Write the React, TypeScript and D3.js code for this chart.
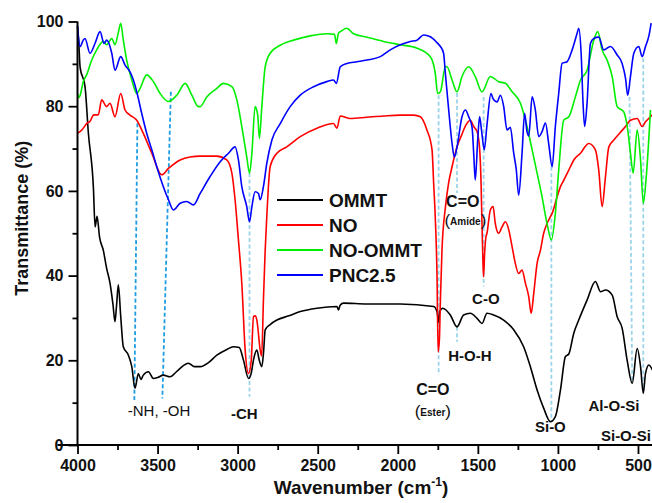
import React, { useEffect, useRef } from 'react';
import * as d3 from 'd3';

type Pt = [number, number];

// spectra: [wavenumber, transmittance %]
const OMMT: Pt[] = [
  [4000, 99], [3992, 95], [3984, 89.3], [3953, 84.6], [3932, 73.6], [3901, 61], [3890, 51.5],
  [3878, 54], [3862, 49], [3839, 46], [3818, 41.7], [3797, 38.2], [3778, 33], [3766, 29.1],
  [3756, 33], [3745, 37.8], [3730, 30.3], [3714, 23.2], [3682, 21.2], [3661, 18.5], [3641, 13.4],
  [3620, 16.9], [3604, 15.5], [3589, 16.5], [3557, 17.3], [3526, 15.7], [3495, 16], [3464, 16.5],
  [3422, 16.1], [3390, 17], [3359, 18.1], [3307, 19.3], [3270, 18.5], [3234, 18.5], [3180, 19.5],
  [3130, 21.2], [3070, 22.5], [3026, 23.2], [2990, 23], [2964, 20.1], [2932, 15.7], [2915, 17],
  [2901, 20.1], [2880, 22.4], [2865, 20], [2849, 18.5], [2838, 22], [2828, 27.2], [2795, 28.5],
  [2755, 29.5], [2680, 30.5], [2609, 31.5], [2505, 32.3], [2380, 32.7], [2370, 31.9], [2360, 33],
  [2339, 33.5], [2193, 33.3], [1984, 33.3], [1776, 32.7], [1755, 31.5], [1745, 29], [1738, 31.5],
  [1720, 32.3], [1672, 30.7], [1630, 27.9], [1589, 30.7], [1547, 31.1], [1505, 29.9], [1474, 28.7],
  [1443, 31.1], [1401, 30.7], [1339, 29.5], [1276, 27.2], [1214, 23.2], [1172, 18.5], [1130, 13],
  [1089, 8.7], [1047, 5.5], [1016, 6.7], [984, 13], [953, 20.9], [932, 21.5], [901, 26.4],
  [870, 29.5], [818, 34.2], [766, 38.6], [734, 36.2], [703, 36.6], [661, 35.4], [630, 30.3],
  [599, 27.6], [568, 20.1], [536, 14.6], [505, 22.8], [484, 18.5], [467, 12.2], [453, 16.9],
  [432, 18.9], [410, 17.7],
];

const NO: Pt[] = [
  [4000, 73.6], [3970, 74.5], [3943, 75.9], [3920, 76.5], [3901, 77.9], [3870, 78], [3849, 81.5],
  [3818, 79.9], [3797, 80.7], [3766, 77.5], [3730, 83], [3703, 79.1], [3672, 77.9], [3630, 76.7],
  [3589, 73.6], [3536, 68.9], [3474, 63.8], [3432, 65.3], [3359, 67.3], [3297, 68], [3234, 68.2],
  [3130, 68.2], [3068, 67.3], [3036, 64.2], [3016, 57.9], [2995, 48.4], [2974, 38.2], [2953, 22.4],
  [2932, 16.9], [2915, 20], [2901, 30.3], [2890, 30.5], [2880, 29.5], [2859, 22.4], [2850, 21],
  [2839, 34.2], [2828, 46], [2818, 53.9], [2797, 65.7], [2755, 68.9], [2693, 70.4], [2609, 72.8],
  [2505, 74.8], [2401, 75.9], [2380, 74.8], [2359, 77.7], [2297, 77.1], [2193, 77.4], [2089, 77.7],
  [1984, 77.9], [1901, 77.9], [1859, 77.5], [1818, 74.4], [1786, 69.7], [1776, 61.8], [1766, 53.9],
  [1755, 40], [1748, 22], [1740, 25], [1734, 34], [1724, 46], [1703, 56], [1682, 62], [1661, 65.7],
  [1630, 70.4], [1599, 73.4], [1578, 75.3], [1547, 76.7], [1526, 75.2], [1505, 74], [1489, 70],
  [1480, 62], [1474, 52], [1468, 43], [1464, 39.7], [1458, 45], [1450, 49], [1443, 50], [1422, 55.5],
  [1405, 56.3], [1391, 52.3], [1370, 50], [1349, 51.5], [1328, 52.7], [1307, 50.8], [1286, 46.8],
  [1266, 42.9], [1245, 40.5], [1224, 41.3], [1203, 38.2], [1182, 35], [1167, 31.1], [1151, 35.8],
  [1130, 42.9], [1109, 46], [1089, 50], [1068, 52.3], [1047, 53.9], [1036, 54.7], [1005, 58.6],
  [984, 61], [964, 62.5], [922, 65.7], [901, 67.3], [859, 68.9], [807, 71.2], [766, 69.7],
  [745, 64.9], [724, 56.3], [703, 63.4], [682, 70.4], [651, 72], [620, 73.4], [578, 75.2],
  [547, 76.7], [505, 77.1], [474, 75.2], [453, 76.3], [422, 77.5], [410, 78],
];

const NO_OMMT: Pt[] = [
  [4000, 83], [3992, 82], [3984, 82.5], [3964, 85.8], [3943, 87.4], [3911, 90.9], [3880, 93.3],
  [3839, 95.3], [3818, 94.5], [3786, 96], [3766, 94.5], [3745, 97.4], [3730, 99.6], [3714, 95.6],
  [3693, 90.9], [3661, 86.2], [3630, 83], [3609, 84.2], [3568, 87.4], [3526, 85.8], [3484, 83],
  [3432, 81.1], [3380, 82.6], [3328, 85.4], [3286, 82.6], [3245, 79.9], [3234, 79.9], [3193, 82.2],
  [3130, 84.2], [3089, 85.4], [3036, 84.6], [3005, 81.5], [2974, 75.2], [2943, 68], [2926, 64.2],
  [2911, 68.9], [2891, 79.9], [2875, 78], [2864, 72.4], [2849, 79.9], [2828, 89.3], [2797, 92.5],
  [2734, 94.4], [2651, 95.6], [2547, 96.6], [2443, 97.1], [2395, 97], [2384, 94.8], [2370, 97.3],
  [2359, 97.6], [2318, 98.4], [2276, 97.1], [2193, 96.3], [2089, 95.3], [1984, 94.5], [1880, 93.7],
  [1797, 91.7], [1766, 87.8], [1751, 83], [1734, 83.4], [1703, 89.3], [1693, 89.3], [1661, 86.2],
  [1630, 83.4], [1599, 87], [1557, 89.3], [1516, 87], [1474, 83.4], [1422, 87], [1370, 85.8],
  [1328, 85.4], [1286, 83.4], [1234, 80.7], [1193, 75.2], [1161, 69.7], [1130, 64.2], [1099, 58.6],
  [1068, 52.3], [1041, 48.4], [1016, 54.7], [995, 64.9], [964, 76.7], [932, 77.5], [891, 82.2],
  [859, 86.2], [818, 88.5], [776, 95.6], [751, 97.6], [724, 93.3], [693, 90.9], [661, 87],
  [630, 79.9], [589, 78.7], [564, 74.4], [547, 68.9], [530, 64.2], [505, 74.4], [484, 67.3],
  [467, 57.1], [447, 64], [422, 79.1],
];

const PNC25: Pt[] = [
  [4000, 98.8], [3984, 94.1], [3964, 95.6], [3953, 96], [3922, 92.5], [3891, 94.8], [3859, 97.6],
  [3834, 94.8], [3818, 95.6], [3786, 92.5], [3766, 88.5], [3730, 91.7], [3703, 89.7], [3672, 88.1],
  [3651, 86.2], [3630, 83.4], [3599, 78.3], [3568, 73.6], [3536, 69.7], [3505, 65.7], [3464, 61],
  [3432, 57.9], [3401, 55.5], [3359, 57.1], [3318, 57.5], [3276, 56.7], [3234, 59.4], [3172, 63.4],
  [3109, 66.9], [3057, 68.9], [3016, 70.4], [2995, 67.3], [2974, 61], [2943, 56.3], [2926, 52.7],
  [2911, 56.3], [2891, 59.8], [2870, 59.4], [2859, 57.9], [2839, 61], [2818, 66.5], [2786, 72],
  [2734, 75.9], [2672, 79.9], [2609, 82.6], [2526, 84.6], [2443, 85.8], [2401, 86.2], [2384, 85.4],
  [2359, 89.3], [2318, 90.1], [2255, 90.5], [2193, 90.9], [2109, 91.7], [2047, 93.3], [1984, 94.5],
  [1922, 95.3], [1880, 95.6], [1839, 96.8], [1797, 96.4], [1755, 95], [1734, 94.1], [1714, 92.5],
  [1703, 87.8], [1682, 79.1], [1661, 71.2], [1647, 68], [1630, 70.4], [1599, 77.5], [1578, 79.1],
  [1557, 77.5], [1536, 75], [1526, 68.9], [1516, 62.6], [1501, 72], [1489, 77.5], [1476, 74],
  [1460, 69.7], [1443, 75.6], [1418, 83], [1405, 81.8], [1380, 81], [1359, 82.6], [1339, 80],
  [1318, 74.4], [1297, 75], [1276, 68.9], [1260, 65], [1245, 59], [1224, 68.9], [1208, 78.3],
  [1193, 74], [1182, 73], [1161, 82.2], [1141, 79.1], [1120, 72.8], [1099, 74], [1078, 76],
  [1057, 71], [1036, 65.7], [1016, 75.2], [995, 83], [974, 90.1], [943, 90.5], [911, 93.3],
  [880, 97.2], [870, 98.4], [855, 92.5], [843, 80.7], [833, 75.2], [818, 80.7], [797, 94.8],
  [776, 96], [745, 96.3], [714, 93.3], [672, 94.1], [630, 92.1], [599, 90.1], [578, 86.6],
  [564, 82.6], [547, 87], [526, 92.5], [495, 94.1], [474, 91.7], [453, 94.1], [432, 96.6],
  [418, 99.6],
];

const seriesNames = ['OMMT', 'NO', 'NO-OMMT', 'PNC2.5'];
const seriesColors = ['#000000', '#ff0000', '#00ee00', '#0000ff'];
const seriesData = [OMMT, NO, NO_OMMT, PNC25];

const xTicks = [4000, 3500, 3000, 2500, 2000, 1500, 1000, 500];
const yTicks = [0, 20, 40, 60, 80, 100];

// dashed guide lines: [wavenumber top, T top, wavenumber bottom, T bottom]
const guideStrong: [number, number, number, number][] = [
  [3626, 76, 3645, 10.6],
  [3417, 83.4, 3470, 11],
];
const guideLight: [number, number, number, number][] = [
  [2926, 64.2, 2926, 11.4],
  [1745, 82.6, 1745, 16.5],
  [1630, 83.1, 1630, 59.5],
  [1464, 82.2, 1464, 37.4],
  [1630, 27.9, 1630, 24.4],
  [1041, 65.7, 1041, 5.5],
  [553, 82.2, 536, 14.6],
  [467, 91.3, 467, 12.2],
];

// band labels: [text, wavenumber, T, bold]
const bandLabels: [string, number, number, boolean][] = [
  ['-NH, -OH', 3491, 7.8, false],
  ['-CH', 2958, 7.0, true],
  ['C=O', 1781, 12.8, true],
  ['C=O', 1594, 57.2, true],
  ['C-O', 1450, 34.2, true],
  ['H-O-H', 1550, 20.8, true],
  ['Si-O', 1047, 3.9, true],
  ['Al-O-Si', 650, 9.0, true],
  ['Si-O-Si', 575, 1.9, true],
];
const subLabels: [string, number, number][] = [
  ['Ester', 1781, 7.6],
  ['Amide', 1578, 52.6],
];

const W = 652;
const H = 503;
const FONT = "'Liberation Sans', Arial, sans-serif";

export default function App() {
  const svgRef = useRef<SVGSVGElement | null>(null);

  useEffect(() => {
    if (!svgRef.current) return;
    const svg = d3.select(svgRef.current);
    svg.selectAll('*').remove();

    const x = d3.scaleLinear().domain([4000, 400]).range([77.5, 654]);
    const y = d3.scaleLinear().domain([0, 100]).range([445, 21.5]);

    // guides
    svg.append('g')
      .selectAll('line')
      .data(guideStrong)
      .join('line')
      .attr('x1', d => x(d[0])).attr('y1', d => y(d[1]))
      .attr('x2', d => x(d[2])).attr('y2', d => y(d[3]))
      .attr('stroke', '#1f9de3').attr('stroke-width', 1.8)
      .attr('stroke-dasharray', '4,2.5');
    svg.append('g')
      .selectAll('line')
      .data(guideLight)
      .join('line')
      .attr('x1', d => x(d[0])).attr('y1', d => y(d[1]))
      .attr('x2', d => x(d[2])).attr('y2', d => y(d[3]))
      .attr('stroke', '#9bd4ea').attr('stroke-width', 1.8)
      .attr('stroke-dasharray', '4,2.5');

    // spectra
    const line = d3.line<Pt>()
      .x(d => x(d[0]))
      .y(d => y(d[1]))
      .curve(d3.curveMonotoneX);

    svg.append('g')
      .selectAll('path')
      .data(seriesData)
      .join('path')
      .attr('d', d => line(d))
      .attr('fill', 'none')
      .attr('stroke', (_, i) => seriesColors[i])
      .attr('stroke-width', 1.6)
      .attr('stroke-linejoin', 'round');

    // axes
    const xAxis = svg.append('g').attr('transform', `translate(0,${y(0)})`);
    xAxis.append('g')
      .call(d3.axisBottom(x).tickValues(d3.range(3750, 400, -500)).tickSize(5).tickFormat(() => ''))
      .call(g => g.select('.domain').remove())
      .selectAll('line').attr('stroke-width', 1.8);
    xAxis.append('g')
      .call(d3.axisBottom(x).tickValues(xTicks).tickSize(9).tickPadding(6).tickFormat(d3.format('d')))
      .call(g => g.select('.domain').attr('stroke-width', 2).attr('d', `M${x(4000) - 20},0H${x(400)}`))
      .call(g => g.selectAll('line').attr('stroke-width', 1.8))
      .call(g => g.selectAll('text')
        .attr('font-family', FONT).attr('font-size', 16).attr('font-weight', 'bold').attr('fill', '#111'));

    const yAxis = svg.append('g').attr('transform', `translate(${x(4000)},0)`);
    yAxis.append('g')
      .call(d3.axisLeft(y).tickValues(d3.range(10, 100, 20)).tickSize(5).tickFormat(() => ''))
      .call(g => g.select('.domain').remove())
      .selectAll('line').attr('stroke-width', 1.8);
    yAxis.append('g')
      .call(d3.axisLeft(y).tickValues(yTicks).tickSize(9).tickPadding(5).tickFormat(d3.format('d')))
      .call(g => g.select('.domain').attr('stroke-width', 2).attr('d', `M0,${y(0)}V${y(100)}`))
      .call(g => g.selectAll('line').attr('stroke-width', 1.8))
      .call(g => g.selectAll('text')
        .attr('font-family', FONT).attr('font-size', 16).attr('font-weight', 'bold').attr('fill', '#111'));

    // axis titles
    svg.append('text')
      .attr('transform', `translate(28,${(y(0) + y(100)) / 2 - 15}) rotate(-90)`)
      .attr('text-anchor', 'middle')
      .attr('font-family', FONT).attr('font-size', 18).attr('font-weight', 'bold').attr('fill', '#111')
      .text('Transmittance (%)');

    const xt = svg.append('text')
      .attr('x', 361).attr('y', 494)
      .attr('text-anchor', 'middle')
      .attr('font-family', FONT).attr('font-size', 19).attr('font-weight', 'bold').attr('fill', '#111');
    xt.append('tspan').text('Wavenumber (cm');
    xt.append('tspan').attr('font-size', 12).attr('dy', -8).text('-1');
    xt.append('tspan').attr('dy', 8).text(')');

    // band labels
    svg.append('g')
      .selectAll('text')
      .data(bandLabels)
      .join('text')
      .attr('x', d => x(d[1])).attr('y', d => y(d[2]))
      .attr('text-anchor', 'middle').attr('dominant-baseline', 'middle')
      .attr('font-family', FONT)
      .attr('font-size', d => (d[0] === 'C=O' ? 16 : 15))
      .attr('font-weight', d => (d[3] ? 'bold' : 'normal'))
      .attr('fill', '#111')
      .text(d => d[0]);

    const sub = svg.append('g')
      .selectAll('text')
      .data(subLabels)
      .join('text')
      .attr('x', d => x(d[1])).attr('y', d => y(d[2]))
      .attr('text-anchor', 'middle').attr('dominant-baseline', 'middle')
      .attr('font-family', FONT).attr('font-weight', 'bold').attr('fill', '#111');
    sub.append('tspan').attr('font-size', 17).attr('font-weight', 'normal').text('(');
    sub.append('tspan').attr('font-size', 10).text(d => d[0]);
    sub.append('tspan').attr('font-size', 17).attr('font-weight', 'normal').text(')');

    // legend
    const legend = svg.append('g').attr('transform', 'translate(277,200)');
    const rows = legend.selectAll('g')
      .data(seriesNames)
      .join('g')
      .attr('transform', (_, i) => `translate(0,${i * 25})`);
    rows.append('line')
      .attr('x1', 0).attr('x2', 46)
      .attr('stroke', (_, i) => seriesColors[i]).attr('stroke-width', 2);
    rows.append('text')
      .attr('x', 52).attr('dy', '0.36em')
      .attr('font-family', FONT).attr('font-size', 19).attr('font-weight', 'bold').attr('fill', '#111')
      .text(d => d);
  }, []);

  return (
    <svg
      ref={svgRef}
      width={W}
      height={H}
      style={{ position: 'absolute', left: 0, top: 0, background: '#fff', display: 'block' }}
    />
  );
}
